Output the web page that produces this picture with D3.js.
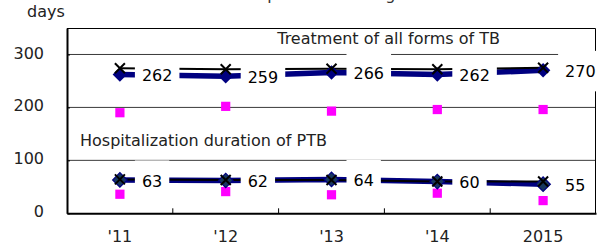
<!DOCTYPE html>
<html>
<head>
<meta charset="utf-8">
<script src="https://cdn.jsdelivr.net/npm/d3@7"></script>
<style>
  body { margin: 0; background: #fff; }
  svg { display: block; font-family: "DejaVu Sans", Verdana, sans-serif; }
</style>
</head>
<body>
<figure id="chart" style="margin:0"></figure>
<script>
// categories and tick labels
const years = ["'11", "'12", "'13", "'14", "2015"];
const yTicks = [0, 100, 200, 300];

// treatment of all forms of TB
const treatAll = [262, 259, 266, 262, 270];
const treatAllCross = [274, 272, 273, 272, 275];
const treatAllSquare = [190, 202, 193, 196, 196];

// hospitalization duration of PTB
const hospPTB = [63, 62, 64, 60, 55];
const hospPTBCross = [64, 63, 63, 60, 60];
const hospPTBSquare = [36, 41, 35, 38, 24];

const margin = { top: 28, right: 13, bottom: 32.7, left: 67 };
const width = 609 - margin.left - margin.right;
const height = 246 - margin.top - margin.bottom;

const svg = d3.select("figure#chart")
  .append("svg")
  .attr("width", 609)
  .attr("height", 246);

const g = svg.append("g")
  .attr("transform", "translate(" + margin.left + "," + margin.top + ")");

const x = d3.scaleBand()
  .domain(years)
  .range([0, width])
  .padding(0);

const y = d3.scaleLinear()
  .domain([0, 350])
  .range([height, 0]);

const cx = d => x(d) + x.bandwidth() / 2;

// title (cut off at the top of the picture, as in the original)
svg.append("text")
  .attr("x", 301)
  .attr("y", -0.5)
  .attr("text-anchor", "middle")
  .attr("font-size", 16)
  .attr("fill", "#333")
  .text("Mean hospitalization length");

svg.append("text")
  .attr("x", 27)
  .attr("y", 17)
  .attr("font-size", 16)
  .attr("fill", "#222")
  .text("days");

// gridlines
g.selectAll(".grid")
  .data(yTicks.filter(t => t > 0))
  .enter()
  .append("line")
  .attr("x1", 0)
  .attr("x2", width)
  .attr("y1", d => y(d))
  .attr("y2", d => y(d))
  .attr("stroke", "#3a3a3a")
  .attr("stroke-width", 1);

// frame top and right
g.append("path")
  .attr("d", "M0,0.5H" + (width - 0.5) + "V" + height)
  .attr("fill", "none")
  .attr("stroke", "#000")
  .attr("stroke-width", 1);

const line = d3.line()
  .x((d, i) => cx(years[i]))
  .y(d => y(d));

const lineLayer = g.append("g");
const boxLayer = g.append("g");
const markLayer = g.append("g");
const labelLayer = g.append("g");

// lines: navy thick, black thin on top
[treatAll, hospPTB].forEach(s => {
  lineLayer.append("path")
    .attr("d", line(s))
    .attr("fill", "none")
    .attr("stroke", "#000080")
    .attr("stroke-width", 5.5);
});
[treatAllCross, hospPTBCross].forEach(s => {
  lineLayer.append("path")
    .attr("d", line(s))
    .attr("fill", "none")
    .attr("stroke", "#000")
    .attr("stroke-width", 2);
});

// data labels with white boxes
[treatAll, hospPTB].forEach(s => {
  s.forEach((v, i) => {
    const px = cx(years[i]);
    const py = y(v);
    const t = labelLayer.append("text")
      .attr("x", px + 22)
      .attr("y", py + 1)
      .attr("dy", "0.36em")
      .attr("font-size", 16)
      .attr("fill", "#000")
      .text(v);
    const w = t.node().getComputedTextLength();
    boxLayer.append("rect")
      .attr("x", px + 15)
      .attr("y", py - 19.5)
      .attr("width", w + 14)
      .attr("height", 40.5)
      .attr("fill", "#fff");
  });
});

// squares
const sq = d3.symbol(d3.symbolSquare, 85);
[treatAllSquare, hospPTBSquare].forEach(s => {
  markLayer.selectAll(null)
    .data(s)
    .enter()
    .append("path")
    .attr("d", sq)
    .attr("transform", (d, i) => "translate(" + cx(years[i]) + "," + y(d) + ")")
    .attr("fill", "#ff00ff");
});

// diamonds
const dia = d3.symbol(d3.symbolSquare, 105);
markLayer.selectAll(null)
  .data(treatAll)
  .enter()
  .append("path")
  .attr("d", dia)
  .attr("transform", (d, i) => "translate(" + cx(years[i]) + "," + y(d) + ") rotate(45)")
  .attr("fill", "#000080");
markLayer.selectAll(null)
  .data(hospPTB)
  .enter()
  .append("path")
  .attr("d", dia)
  .attr("transform", (d, i) => "translate(" + cx(years[i]) + "," + y(d) + ") rotate(45)")
  .attr("fill", "#17375e")
  .attr("stroke", "#000080")
  .attr("stroke-width", 1.2);

// crosses
const cross = "M-5,-5L5,5M5,-5L-5,5";
[treatAllCross, hospPTBCross].forEach(s => {
  markLayer.selectAll(null)
    .data(s)
    .enter()
    .append("path")
    .attr("d", cross)
    .attr("transform", (d, i) => "translate(" + cx(years[i]) + "," + y(d) + ")")
    .attr("fill", "none")
    .attr("stroke", "#000")
    .attr("stroke-width", 2);
});

// series names
g.append("text")
  .attr("x", width - 96)
  .attr("y", y(320))
  .attr("text-anchor", "end")
  .attr("font-size", 16)
  .attr("fill", "#222")
  .text("Treatment of all forms of TB");

g.append("text")
  .attr("x", 13)
  .attr("y", y(128))
  .attr("font-size", 16)
  .attr("fill", "#222")
  .text("Hospitalization duration of PTB");

// y axis
const yAxis = g.append("g")
  .call(d3.axisLeft(y).tickValues(yTicks).tickSizeInner(-3).tickSizeOuter(0).tickPadding(23));
yAxis.select(".domain").attr("stroke", "#000").attr("stroke-width", 2);
yAxis.selectAll("line").attr("stroke", "#000");
yAxis.selectAll("text")
  .attr("font-size", 16)
  .attr("font-family", "DejaVu Sans, Verdana, sans-serif")
  .attr("fill", "#222")
  .attr("dy", "0.22em");

// x axis
const xAxis = g.append("g")
  .attr("transform", "translate(0," + height + ")")
  .call(d3.axisBottom(x).tickSize(0).tickPadding(17));
xAxis.select(".domain").attr("stroke", "#000").attr("stroke-width", 2);
xAxis.selectAll("text")
  .attr("font-size", 16)
  .attr("font-family", "DejaVu Sans, Verdana, sans-serif")
  .attr("fill", "#222");

// category boundary ticks
g.selectAll(".xtick")
  .data(years.slice(1))
  .enter()
  .append("line")
  .attr("x1", d => x(d))
  .attr("x2", d => x(d))
  .attr("y1", height)
  .attr("y2", height - 5)
  .attr("stroke", "#000")
  .attr("stroke-width", 1);
</script>
</body>
</html>
